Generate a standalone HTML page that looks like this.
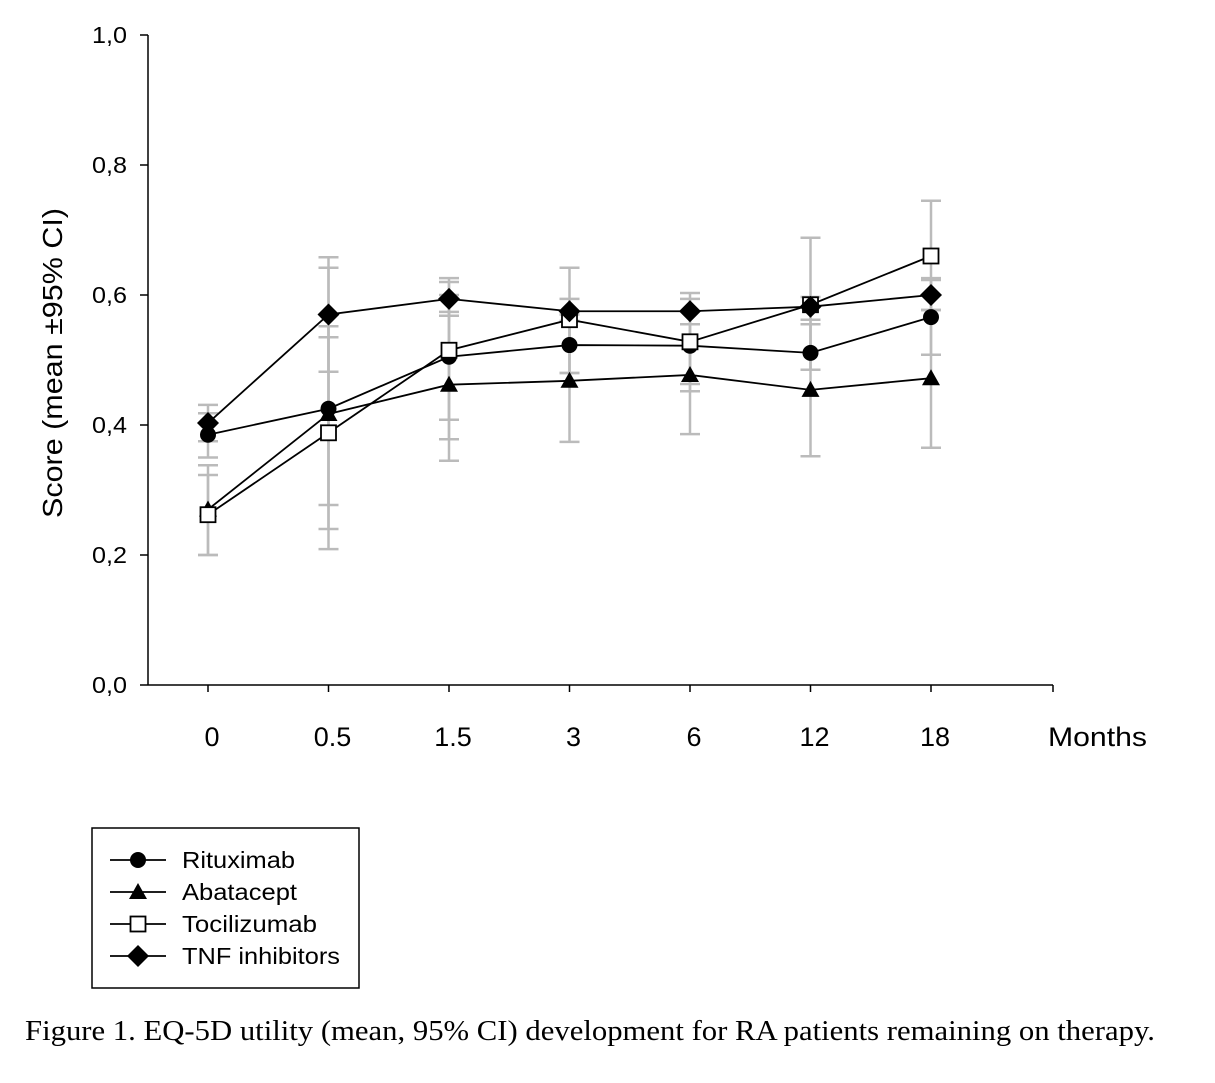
<!DOCTYPE html>
<html><head><meta charset="utf-8"><style>
body{margin:0;background:#fff;width:1215px;height:1083px;overflow:hidden}
svg{display:block}
text{font-family:"Liberation Sans",sans-serif}
</style></head><body>
<svg id="chart" width="1215" height="1083" viewBox="0 0 1215 1083">
<g id="axes"></g>
<g id="errs"></g>
<g id="series"></g>
<g id="legend"></g>
<text x="25" y="1040" font-size="28" textLength="1130" lengthAdjust="spacingAndGlyphs" style="font-family:'Liberation Serif',serif">Figure 1. EQ-5D utility (mean, 95% CI) development for RA patients remaining on therapy.</text>
</svg>
<script>
const categories=["0","0.5","1.5","3","6","12","18"];
const yTicks=[0,0.2,0.4,0.6,0.8,1.0];
const yTickLabels=["0,0","0,2","0,4","0,6","0,8","1,0"];
const seriesNames=["Rituximab","Abatacept","Tocilizumab","TNF inhibitors"];
const rituximab=[0.385,0.425,0.505,0.523,0.522,0.511,0.566];
const abatacept=[0.27,0.417,0.462,0.468,0.477,0.454,0.472];
const tocilizumab=[0.262,0.388,0.515,0.562,0.528,0.585,0.66];
const tnf=[0.403,0.57,0.594,0.575,0.575,0.582,0.6];
const ritLo=[0.35,0.277,0.408,0.48,0.463,0.485,0.508];
const ritHi=[0.418,0.535,0.6,0.57,0.555,0.555,0.623];
const abaLo=[0.2,0.24,0.345,0.374,0.386,0.352,0.365];
const abaHi=[0.338,0.642,0.574,0.56,0.555,0.562,0.577];
const tocLo=[0.2,0.209,0.378,0.48,0.452,0.485,0.577];
const tocHi=[0.323,0.552,0.62,0.642,0.603,0.688,0.745];
const tnfLo=[0.375,0.482,0.568,0.56,0.555,0.562,0.577];
const tnfHi=[0.431,0.658,0.626,0.594,0.594,0.597,0.626];

const NS="http://www.w3.org/2000/svg";
const X0=148,X1=1053,Y0=685,Y1=35;
function xPos(i){return 208+i*120.5;}
function yPos(v){return Y0-(v)*(Y0-Y1);}
function mk(tag,attrs,parent){const e=document.createElementNS(NS,tag);for(const k in attrs)e.setAttribute(k,attrs[k]);parent.appendChild(e);return e;}
const axes=document.getElementById('axes');
let l=mk('line',{x1:X0,y1:Y1,x2:X0,y2:Y0,stroke:'#000','stroke-width':1.5},axes);


l=mk('line',{x1:X0,y1:Y0,x2:X1,y2:Y0,stroke:'#000','stroke-width':1.5},axes);


yTicks.forEach((v,i)=>{const y=yPos(v);
 mk('line',{x1:140,y1:y,x2:X0,y2:y,stroke:'#000','stroke-width':1.5},axes);
 const t=mk('text',{x:127,y:y+8,'text-anchor':'end','font-size':23,textLength:35,lengthAdjust:'spacingAndGlyphs'},axes);t.textContent=yTickLabels[i];
 
 });
categories.forEach((c,i)=>{const x=xPos(i);
 mk('line',{x1:x,y1:Y0,x2:x,y2:Y0+7,stroke:'#000','stroke-width':1.5},axes);
 const t=mk('text',{x:x+4,y:746,'text-anchor':'middle','font-size':27},axes);t.textContent=c;
 
 });
mk('line',{x1:X1,y1:Y0,x2:X1,y2:Y0+7,stroke:'#000','stroke-width':1.5},axes);
let t=mk('text',{x:1048,y:746,'font-size':27,textLength:99,lengthAdjust:'spacingAndGlyphs'},axes);t.textContent="Months";


t=mk('text',{x:0,y:0,'font-size':28,'text-anchor':'middle',textLength:310,lengthAdjust:'spacingAndGlyphs',transform:'translate(62,363) rotate(-90)'},axes);t.textContent="Score (mean \u00b195% CI)";



const errs=document.getElementById('errs');
[[ritLo,ritHi],[abaLo,abaHi],[tocLo,tocHi],[tnfLo,tnfHi]].forEach(([lo,hi])=>{
 lo.forEach((v,i)=>{const x=xPos(i),a=yPos(v),b=yPos(hi[i]);
  const g=mk('g',{stroke:'#bbb','stroke-width':2.5},errs);
  
  
  mk('line',{x1:x,y1:a,x2:x,y2:b},g);
  mk('line',{x1:x-10,y1:a,x2:x+10,y2:a},g);
  mk('line',{x1:x-10,y1:b,x2:x+10,y2:b},g);});});

function marker(type,x,y,parent){
 if(type==='circle')return mk('circle',{cx:x,cy:y,r:8,fill:'#000'},parent);
 if(type==='tri')return mk('polygon',{points:`${x-9},${y+7} ${x+9},${y+7} ${x},${y-9}`,fill:'#000'},parent);
 if(type==='sq')return mk('rect',{x:x-7.5,y:y-7.5,width:15,height:15,fill:'#fff',stroke:'#000','stroke-width':1.8},parent);
 return mk('polygon',{points:`${x},${y-11} ${x+11},${y} ${x},${y+11} ${x-11},${y}`,fill:'#000'},parent);}
const types=['circle','tri','sq','dia'];
const all=[rituximab,abatacept,tocilizumab,tnf];
const ser=document.getElementById('series');
all.forEach((d,s)=>{
 const g=mk('g',{},ser);
 
 
 mk('polyline',{points:d.map((v,i)=>xPos(i)+','+yPos(v)).join(' '),fill:'none',stroke:'#000','stroke-width':1.8},g);});
all.forEach((d,s)=>{d.forEach((v,i)=>{const m=marker(types[s],xPos(i),yPos(v),ser);
 
 });});

const leg=document.getElementById('legend');
mk('rect',{x:92,y:828,width:267,height:160,fill:'#fff',stroke:'#000','stroke-width':1.5},leg);
const legW=[113,115,135,158];
seriesNames.forEach((n,s)=>{const y=860+s*32;
 const g=mk('g',{},leg);
 
 
 mk('line',{x1:110,y1:y,x2:166,y2:y,stroke:'#000','stroke-width':1.8},g);
 marker(types[s],138,y,g);
 const tt=mk('text',{x:182,y:y+8,'font-size':23,textLength:legW[s],lengthAdjust:'spacingAndGlyphs'},g);tt.textContent=n;});
</script>
</body></html>
